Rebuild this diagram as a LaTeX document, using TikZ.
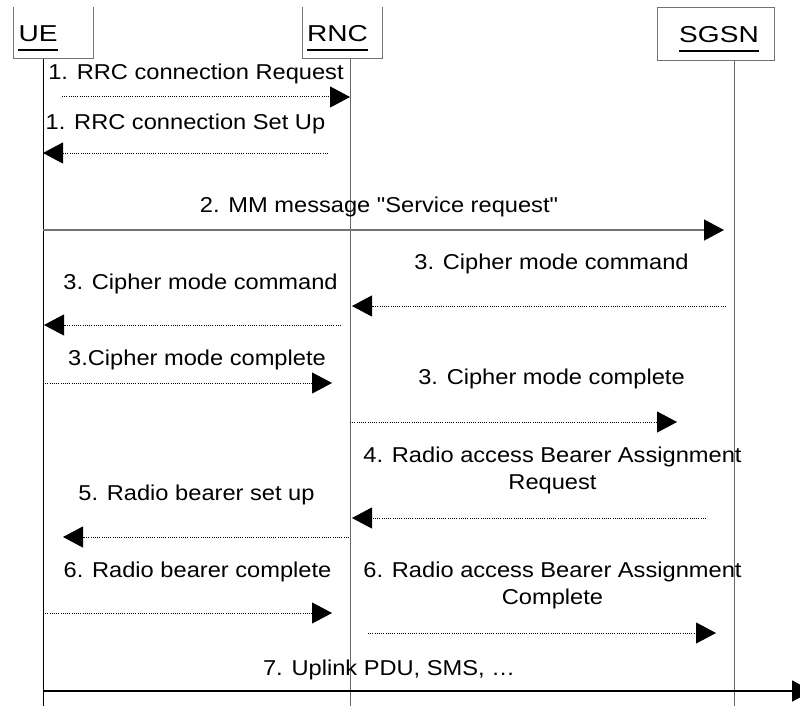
\documentclass[tikz,border=0pt]{standalone}
\usepackage{fontspec}
\setmainfont{Liberation Sans}
\newfontfamily\msgfont[FakeStretch=1.1]{Liberation Sans}
\newfontfamily\hdrfont[FakeStretch=1.22]{Liberation Sans}
\usetikzlibrary{arrows.meta}
\begin{document}
\begin{tikzpicture}[x=1pt,y=-1pt,
  hdr/.style={font=\hdrfont\fontsize{23}{27}\selectfont, inner sep=0pt, anchor=base, text=black},
  msglbl/.style={font=\msgfont\fontsize{21.5}{26.5}\selectfont, inner sep=0pt, anchor=base, align=center, text=black},
  msgtwo/.style={msglbl, anchor=north},
  boxline/.style={draw=black!55, line width=1pt},
  lifeline/.style={draw=black!60, line width=1pt},
  uline/.style={draw=black, line width=2pt},
  tipshape/.style={-{Triangle[length=20pt,width=21pt,color=black]}},
  dotarr/.style={draw=black, line width=1pt, dash pattern=on 1pt off 1.2pt, tipshape},
  solidgray/.style={draw=black!55, line width=1.3pt, tipshape},
  solidblack/.style={draw=black, line width=1.8pt, tipshape}]
\useasboundingbox (0,0) rectangle (800,706);

% headers
\draw[boxline] (13,7) -- (13,59) -- (93,59) -- (93,7);
\draw[boxline] (302,7) -- (302,59) -- (382,59) -- (382,7);
\draw[boxline] (657,8) rectangle (774,61);
\node[hdr] (ue) at (38,42) {UE};
\node[hdr] (rnc) at (337.5,42) {RNC};
\node[hdr] (sgsn) at (719,43) {SGSN};
\draw[uline] ([yshift=-8pt]ue.base west) -- ([yshift=-8pt]ue.base east);
\draw[uline] ([yshift=-8pt]rnc.base west) -- ([yshift=-8pt]rnc.base east);
\draw[uline] ([yshift=-8pt]sgsn.base west) -- ([yshift=-8pt]sgsn.base east);

% lifelines
\coordinate (ueT) at (43,59);   \coordinate (ueB) at (43,706);
\coordinate (rncT) at (350,59); \coordinate (rncB) at (350,706);
\coordinate (sgT) at (734,61);  \coordinate (sgB) at (734,706);
\draw[draw=black, line width=1pt] (ueT) -- (ueB);
\draw[lifeline] (rncT) -- (rncB);
\draw[lifeline] (sgT) -- (sgB);

% 1
\node[msglbl] (m1) at (196,80) {1. RRC connection Request};
\coordinate (m1s) at (62,97); \coordinate (m1e) at (350,97);
\draw[dotarr] (m1s) -- (m1e);
\node[msglbl] (m1b) at (185.5,129) {1. RRC connection Set Up};
\coordinate (m1bs) at (328,153); \coordinate (m1be) at (43,153);
\draw[dotarr] (m1bs) -- (m1be);
% 2
\node[msglbl] (m2) at (379,212) {2. MM message "Service request"};
\coordinate (m2s) at (43,230); \coordinate (m2e) at (724,230);
\draw[solidgray] (m2s) -- (m2e);
% 3
\node[msglbl] (m3a) at (551.5,269) {3. Cipher mode command};
\coordinate (m3as) at (726,306); \coordinate (m3ae) at (352,306);
\draw[dotarr] (m3as) -- (m3ae);
\node[msglbl] (m3b) at (200.5,289) {3. Cipher mode command};
\coordinate (m3bs) at (341,325); \coordinate (m3be) at (44,325);
\draw[dotarr] (m3bs) -- (m3be);
\node[msglbl] (m3c) at (197,365) {3.Cipher mode complete};
\coordinate (m3cs) at (43,383); \coordinate (m3ce) at (332,383);
\draw[dotarr] (m3cs) -- (m3ce);
\node[msglbl] (m3d) at (551.5,384) {3. Cipher mode complete};
\coordinate (m3ds) at (350,422); \coordinate (m3de) at (677,422);
\draw[dotarr] (m3ds) -- (m3de);
% 4
\node[msgtwo] (m4) at (552.5,447) {4. Radio access Bearer Assignment\\Request};
\coordinate (m4s) at (706,518); \coordinate (m4e) at (352,518);
\draw[dotarr] (m4s) -- (m4e);
% 5
\node[msglbl] (m5) at (196.5,500) {5. Radio bearer set up};
\coordinate (m5s) at (349,537); \coordinate (m5e) at (63,537);
\draw[dotarr] (m5s) -- (m5e);
% 6
\node[msglbl] (m6a) at (197.5,577) {6. Radio bearer complete};
\coordinate (m6as) at (43,613); \coordinate (m6ae) at (332,613);
\draw[dotarr] (m6as) -- (m6ae);
\node[msgtwo] (m6b) at (552.5,562) {6. Radio access Bearer Assignment\\Complete};
\coordinate (m6bs) at (368,633); \coordinate (m6be) at (716,633);
\draw[dotarr] (m6bs) -- (m6be);
% 7
\node[msglbl] (m7) at (389,675) {7. Uplink PDU, SMS, …};
\coordinate (m7s) at (43,691); \coordinate (m7e) at (812,691);
\draw[solidblack] (m7s) -- (m7e);
\end{tikzpicture}
\end{document}
